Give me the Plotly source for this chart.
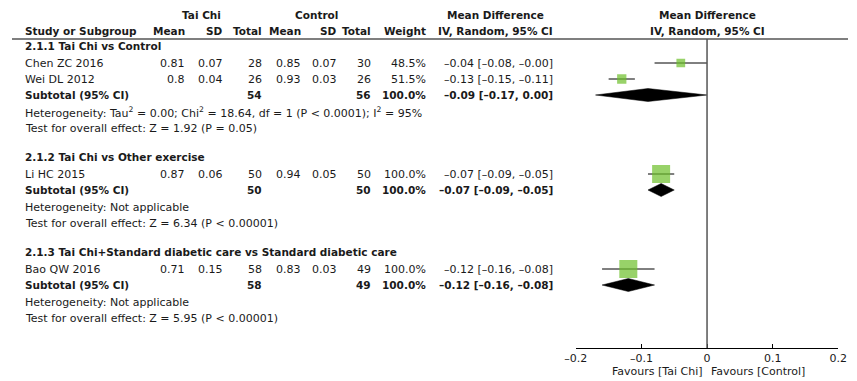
import plotly.graph_objects as go

# ---------------- data ----------------
studies = ["Chen ZC 2016", "Wei DL 2012", "Li HC 2015", "Bao QW 2016"]
study_group = [0, 0, 1, 2]
tc_mean = [0.81, 0.8, 0.87, 0.71]
tc_sd = [0.07, 0.04, 0.06, 0.15]
tc_n = [28, 26, 50, 58]
ct_mean = [0.85, 0.93, 0.94, 0.83]
ct_sd = [0.07, 0.03, 0.05, 0.03]
ct_n = [30, 26, 50, 49]
weight = [48.5, 51.5, 100.0, 100.0]
md = [-0.04, -0.13, -0.07, -0.12]
md_lo = [-0.08, -0.15, -0.09, -0.16]
md_hi = [-0.0, -0.11, -0.05, -0.08]

sub_names = ["2.1.1 Tai Chi vs Control",
             "2.1.2 Tai Chi vs Other exercise",
             "2.1.3 Tai Chi+Standard diabetic care vs Standard diabetic care"]
sub_tc_n = [54, 50, 58]
sub_ct_n = [56, 50, 49]
sub_md = [-0.09, -0.07, -0.12]
sub_lo = [-0.17, -0.09, -0.16]
sub_hi = [0.0, -0.05, -0.08]
sub_het = ["Heterogeneity: Tau<sup>2</sup> = 0.00; Chi<sup>2</sup> = 18.64, df = 1 (P < 0.0001); I<sup>2</sup> = 95%",
           "Heterogeneity: Not applicable",
           "Heterogeneity: Not applicable"]
sub_test = ["Test for overall effect: Z = 1.92 (P = 0.05)",
            "Test for overall effect: Z = 6.34 (P < 0.00001)",
            "Test for overall effect: Z = 5.95 (P < 0.00001)"]

x_ticks = [-0.2, -0.1, 0, 0.1, 0.2]
x_tick_labels = ["\u20130.2", "\u20130.1", "0", "0.1", "0.2"]
fav_left = "Favours [Tai Chi]"
fav_right = "Favours [Control]"

# ---------------- layout constants ----------------
W, H = 857, 381
FONT = "DejaVu Sans"
FS = 11
FS_B = 10.5
TXT = "#1a1a1a"
GREEN = "#6cbf2a"
AXIS_Y = 348
HEADER_LINE_Y = 39

# column anchors in pixels
COL_STUDY = 12
COL_TC_MEAN = 178
COL_TC_SD = 217
COL_TC_N = 257
COL_CT_MEAN = 297
COL_CT_SD = 334
COL_CT_N = 369
COL_W = 425
COL_CI = 556
CI_HEAD = 496
PLOT_L, PLOT_R = 578, 847


def fmt(v):
    return f"{v:.2f}".replace("-", "\u2013")


def ci_text(m, lo, hi):
    return f"{fmt(m)} [{fmt(lo)}, {fmt(hi)}]"


# compute row positions (pixels from top)
title_y, study_y, sub_y, het_y, test_y = [], {}, [], [], []
y = 46
for g in range(len(sub_names)):
    title_y.append(y)
    yy = y
    members = [i for i, sg in enumerate(study_group) if sg == g]
    for k, i in enumerate(members):
        yy = y + 17 + 16 * k
        study_y[i] = yy
    s = yy + 16
    sub_y.append(s)
    het_y.append(s + 17)
    test_y.append(s + 33)
    y = s + 33 + 29

fig = go.Figure()
annotations = []


def add_text(text, xpx, ypx, anchor="left", bold=False):
    size = FS
    if bold:
        text = f"<b>{text}</b>"
        size = FS_B
    annotations.append(dict(
        text=text, x=xpx / W, xref="paper", y=ypx, yref="y",
        xanchor=anchor, yanchor="middle", showarrow=False,
        font=dict(family=FONT, size=size, color=TXT), borderpad=0))


# headers
add_text("Tai Chi", 194, 15, "center", True)
add_text("Control", 312, 15, "center", True)
add_text("Mean Difference", CI_HEAD, 15, "center", True)
add_text("Mean Difference", 713, 15, "center", True)
add_text("Study or Subgroup", COL_STUDY, 31, "left", True)
add_text("Mean", COL_TC_MEAN, 31, "right", True)
add_text("SD", COL_TC_SD, 31, "right", True)
add_text("Total", COL_TC_N, 31, "right", True)
add_text("Mean", COL_CT_MEAN, 31, "right", True)
add_text("SD", COL_CT_SD, 31, "right", True)
add_text("Total", COL_CT_N, 31, "right", True)
add_text("Weight", COL_W, 31, "right", True)
add_text("IV, Random, 95% CI", CI_HEAD, 31, "center", True)
add_text("IV, Random, 95% CI", 713, 31, "center", True)

for g in range(len(sub_names)):
    add_text(sub_names[g], COL_STUDY, title_y[g], "left", True)
    add_text("Subtotal (95% CI)", COL_STUDY, sub_y[g], "left", True)
    add_text(str(sub_tc_n[g]), COL_TC_N, sub_y[g], "right", True)
    add_text(str(sub_ct_n[g]), COL_CT_N, sub_y[g], "right", True)
    add_text("100.0%", COL_W, sub_y[g], "right", True)
    add_text(ci_text(sub_md[g], sub_lo[g], sub_hi[g]), COL_CI, sub_y[g], "right", True)
    add_text(sub_het[g], COL_STUDY, het_y[g], "left")
    add_text(sub_test[g], COL_STUDY, test_y[g], "left")

for i, name in enumerate(studies):
    yy = study_y[i]
    add_text(name, COL_STUDY, yy, "left")
    add_text(str(tc_mean[i]), COL_TC_MEAN, yy, "right")
    add_text(str(tc_sd[i]), COL_TC_SD, yy, "right")
    add_text(str(tc_n[i]), COL_TC_N, yy, "right")
    add_text(str(ct_mean[i]), COL_CT_MEAN, yy, "right")
    add_text(str(ct_sd[i]), COL_CT_SD, yy, "right")
    add_text(str(ct_n[i]), COL_CT_N, yy, "right")
    add_text(f"{weight[i]:.1f}%", COL_W, yy, "right")
    add_text(ci_text(md[i], md_lo[i], md_hi[i]), COL_CI, yy, "right")

# favours labels
for txt, xpx, anc in [(fav_left, 709, "right"), (fav_right, 716, "left")]:
    annotations.append(dict(
        text=txt, x=xpx / W, xref="paper", y=1 - 371 / H, yref="paper",
        xanchor=anc, yanchor="middle", showarrow=False, borderpad=0,
        font=dict(family=FONT, size=FS, color=TXT)))

# CI lines
for i in range(len(studies)):
    fig.add_trace(go.Scatter(
        x=[md_lo[i], md_hi[i]], y=[study_y[i], study_y[i]], mode="lines",
        line=dict(color="black", width=1), hoverinfo="skip"))

# squares
fig.add_trace(go.Scatter(
    x=md, y=[study_y[i] for i in range(len(studies))], mode="markers",
    marker=dict(symbol="square", color=GREEN, size=[18 * w / 100 for w in weight],
                line=dict(width=0)),
    hoverinfo="skip"))

# diamonds
HALF = 6.5
for g in range(len(sub_names)):
    yy = sub_y[g]
    fig.add_trace(go.Scatter(
        x=[sub_lo[g], sub_md[g], sub_hi[g], sub_md[g], sub_lo[g]],
        y=[yy, yy - HALF, yy, yy + HALF, yy],
        mode="lines", fill="toself", fillcolor="black",
        line=dict(color="black", width=0.5), hoverinfo="skip"))

shapes = [
    dict(type="line", xref="paper", yref="y", x0=0, x1=1,
         y0=HEADER_LINE_Y, y1=HEADER_LINE_Y, line=dict(color="#555555", width=1.5)),
    dict(type="line", xref="x", yref="y", x0=0, x1=0,
         y0=HEADER_LINE_Y, y1=AXIS_Y, line=dict(color="#555555", width=1.5)),
]

fig.update_layout(
    width=W, height=H, margin=dict(l=0, r=0, t=0, b=0),
    paper_bgcolor="white", plot_bgcolor="white", showlegend=False,
    annotations=annotations, shapes=shapes,
    xaxis=dict(domain=[PLOT_L / W, PLOT_R / W], range=[-0.2, 0.2],
               anchor="free", position=1 - AXIS_Y / H,
               showline=True, linecolor="black", linewidth=1,
               ticks="inside", ticklen=4, tickcolor="black",
               tickmode="array", tickvals=x_ticks, ticktext=x_tick_labels,
               showgrid=False, zeroline=False,
               tickfont=dict(family=FONT, size=FS, color=TXT)),
    yaxis=dict(domain=[0, 1], range=[H, 0], visible=False,
               showgrid=False, zeroline=False),
)

fig.write_html("out.html",
               config={"displayModeBar": False, "staticPlot": True},
               post_script="document.body.style.margin='0px';document.body.style.overflow='hidden';")
